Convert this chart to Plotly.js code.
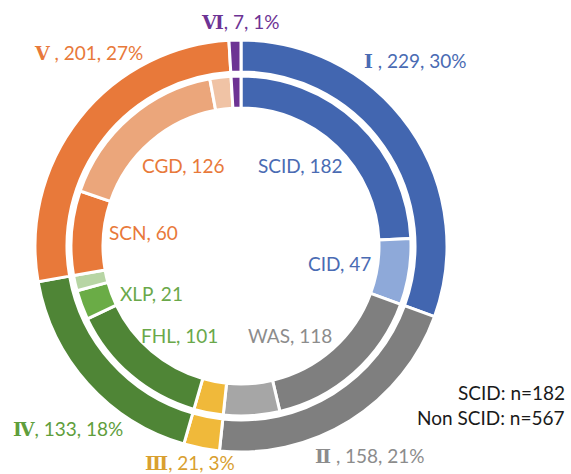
<!DOCTYPE html>
<html>
<head>
<meta charset="utf-8">
<script src="https://cdn.plot.ly/plotly-3.0.1.min.js"></script>
<style>
  html, body { margin: 0; padding: 0; background: #fff; }
  #chart { width: 571px; height: 474px; }
</style>
</head>
<body>
<div id="chart"></div>
<script>
// outer ring: disease groups
const groupNames = ["Ⅰ", "Ⅱ", "Ⅲ", "Ⅳ", "Ⅴ", "Ⅵ"];
const groupCounts = [229, 158, 21, 133, 201, 7];
const groupPct = [30, 21, 3, 18, 27, 1];
const groupColors = ["#4266b0", "#7f7f7f", "#f0b93a", "#4f8536", "#e8793a", "#6d3394"];
const groupTextColors = ["#4a6bb3", "#8c8c8c", "#d9a030", "#5f9e3c", "#e8793a", "#6d3394"];

// inner ring: sub-diagnoses
const subNames = ["SCID", "CID", "WAS", "II other", "III", "FHL", "XLP", "IV other", "SCN", "CGD", "V other", "VI"];
const subCounts = [182, 47, 118, 40, 21, 101, 21, 11, 60, 126, 15, 7];
const subColors = ["#4266b0", "#8ea9d9", "#7f7f7f", "#a6a6a6", "#f0b93a", "#4f8536", "#6aac46", "#b7d5a4", "#e8793a", "#eba67b", "#f0c3a5", "#6d3394"];
const subShown = ["SCID", "CID", "WAS", "FHL", "XLP", "SCN", "CGD"];
const subTextColors = { SCID: "#4a6bb3", CID: "#4a6bb3", WAS: "#8c8c8c", FHL: "#6aa84a", XLP: "#6aa84a", SCN: "#e8793a", CGD: "#e8793a" };

const noteLines = ["SCID: n=182", "Non SCID: n=567"];

const W = 571, H = 474;
const cx = 241, cy = 246;
function dom(r) {
  return {
    x: [(cx - r) / W, (cx + r) / W],
    y: [(H - cy - r) / H, (H - cy + r) / H],
  };
}

const font = "Lato, 'Open Sans', sans-serif";

const outerPos = [[415, 60], [370, 455], [190, 462], [68, 428], [88, 52], [240, 22]];
const subPos = {
  SCID: [300, 165], CID: [339, 263], WAS: [290, 335], FHL: [180, 335],
  XLP: [151, 293], SCN: [143, 232], CGD: [183, 165],
};

const annotations = [];
groupNames.forEach((g, i) => {
  const sep = (i === 0 || i === 1 || i === 4) ? " , " : ", ";
  annotations.push({
    xref: "paper", yref: "paper",
    x: outerPos[i][0] / W, y: 1 - outerPos[i][1] / H,
    xanchor: "center", yanchor: "middle", showarrow: false,
    text: `<span style="font-family:'DejaVu Serif';font-weight:bold">${g}</span>${sep}${groupCounts[i]}, ${groupPct[i]}%`,
    font: { family: font, size: 19, color: groupTextColors[i] },
  });
});
subShown.forEach((name) => {
  const idx = subNames.indexOf(name);
  annotations.push({
    xref: "paper", yref: "paper",
    x: subPos[name][0] / W, y: 1 - subPos[name][1] / H,
    xanchor: "center", yanchor: "middle", showarrow: false,
    text: `${name}, ${subCounts[idx]}`,
    font: { family: font, size: 19, color: subTextColors[name] },
  });
});
noteLines.forEach((t, i) => {
  annotations.push({
    xref: "paper", yref: "paper",
    x: 567 / W, y: 1 - (392 + i * 25) / H,
    xanchor: "right", yanchor: "middle", showarrow: false,
    text: t,
    font: { family: font, size: 19, color: "#1a1a1a" },
  });
});

const outerR = 206, innerR = 170;

Plotly.newPlot("chart", [
  {
    type: "pie",
    labels: groupNames,
    values: groupCounts,
    sort: false,
    direction: "clockwise",
    rotation: 0,
    hole: 174 / outerR,
    domain: dom(outerR),
    textinfo: "none",
    hoverinfo: "label+value+percent",
    marker: { colors: groupColors, line: { color: "#ffffff", width: 3 } },
    showlegend: false,
  },
  {
    type: "pie",
    labels: subNames,
    values: subCounts,
    sort: false,
    direction: "clockwise",
    rotation: 0,
    hole: 138 / innerR,
    domain: dom(innerR),
    textinfo: "none",
    hoverinfo: "label+value",
    marker: { colors: subColors, line: { color: "#ffffff", width: 3 } },
    showlegend: false,
  },
], {
  width: W,
  height: H,
  margin: { l: 0, r: 0, t: 0, b: 0 },
  paper_bgcolor: "#ffffff",
  showlegend: false,
  annotations: annotations,
}, { displayModeBar: false });
</script>
</body>
</html>
